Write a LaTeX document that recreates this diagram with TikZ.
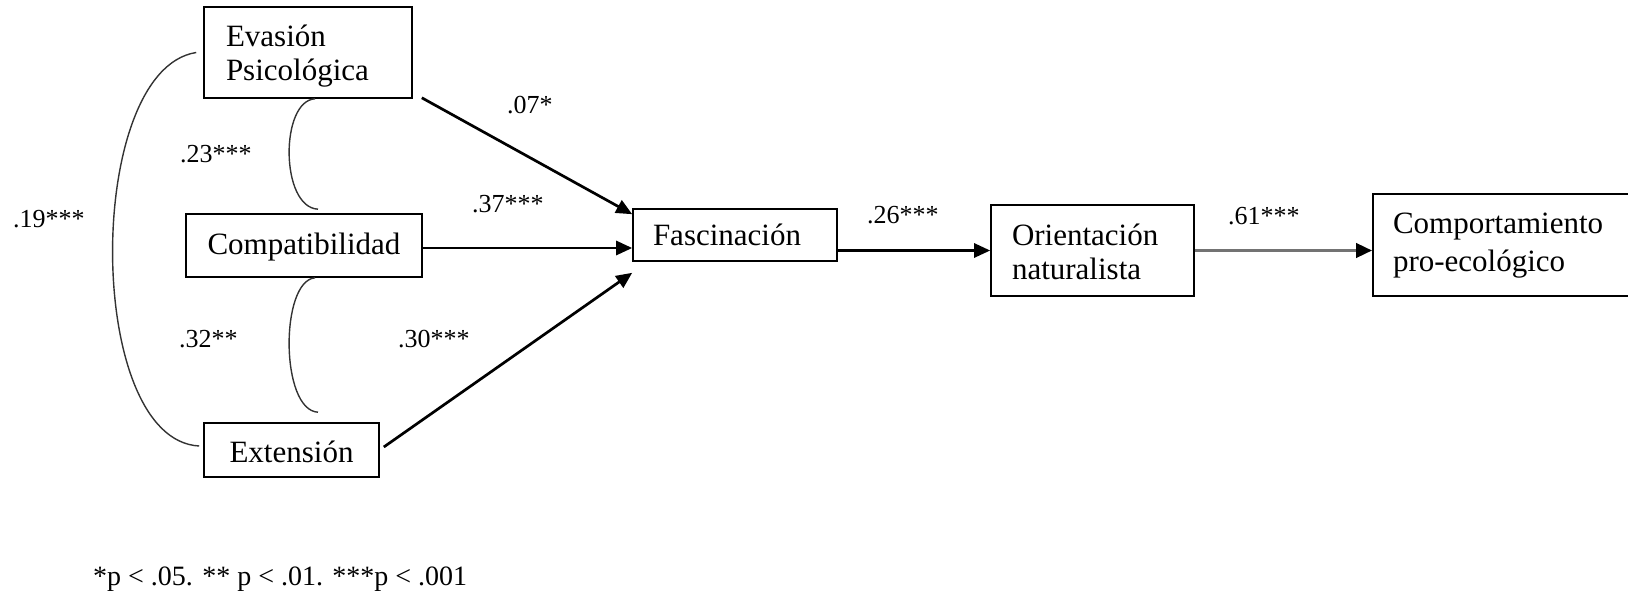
\documentclass[tikz,border=0pt]{standalone}
\usepackage{fontspec}
\setmainfont{Liberation Serif}
\usetikzlibrary{arrows.meta,calc}
\begin{document}
\begin{tikzpicture}[x=1pt,y=-1pt,
  box/.style={draw,line width=1.6pt,inner ysep=0pt,font=\fontsize{31}{34}\selectfont},
  lbl/.style={anchor=base west,inner sep=0pt,font=\fontsize{26}{30}\selectfont},
  pathto/.style={line width=2.7pt,-{Triangle[length=16pt,width=14pt]}},
  corr/.style={line width=1.4pt,black!80},
]
\clip (0,0) rectangle (1628,594);
\useasboundingbox (0,0) rectangle (1628,594);

% boxes
\node[box,align=left,inner xsep=22pt,text width=164pt,text height=40pt,text depth=51pt] (evasion) at (308,52.5) {Evasión\\Psicológica};
\node[box,align=center,inner xsep=20pt,text width=196pt,text height=40pt,text depth=23pt] (compat) at (304,245.5) {Compatibilidad};
\node[box,align=center,inner xsep=20pt,text width=135pt,text height=39pt,text depth=15pt] (extension) at (291.5,450) {Extensión};
\node[box,align=left,inner xsep=20pt,text width=164pt,text height=36pt,text depth=16pt] (fasc) at (735,235) {Fascinación};
\node[box,align=left,inner xsep=21pt,text width=161pt,text height=40pt,text depth=51pt] (orient) at (1092.5,250.5) {Orientación\\naturalista};
\node[box,align=left,inner xsep=20pt,text width=227pt,text height=39pt,text depth=63pt,font=\fontsize{31}{38}\selectfont] (comport) at (1506.5,245) {Comportamiento\\pro-ecológico};

% paths
\draw[pathto] ([xshift=9pt,yshift=1pt]evasion.south east) -- ([yshift=-6pt]fasc.north west);
\draw[pathto] ([yshift=-2.5pt]compat.east) -- ([yshift=-13pt]fasc.west);
\draw[pathto] ([xshift=4pt,yshift=3pt]extension.east) -- ([yshift=-11pt]fasc.south west);
\draw[pathto] (fasc.east |- orient.west) -- (orient.west);
\draw[line width=3.6pt,black!55,-{Triangle[length=16pt,width=14pt,color=black]}] (orient.east) -- (orient.east -| comport.west);

% correlations
\draw[corr] ([xshift=-7pt]evasion.west) .. controls +(-112,17.5) and +(-115,-6) .. ([xshift=-4pt,yshift=4pt]extension.west);
\draw[corr] ([xshift=7pt]evasion.south) .. controls +(-35,2) and +(-38,-2) .. ([xshift=14pt,yshift=4pt]compat.north);
\draw[corr] ([xshift=11pt]compat.south) .. controls +(-35,3) and +(-38,-2) .. ([xshift=26.5pt,yshift=10pt]extension.north);

% labels
\node[lbl] (l07) at (507,113) {.07*};
\node[lbl] (l37) at (472,212) {.37***};
\node[lbl] (l30) at (398,347) {.30***};
\node[lbl] (l23) at (180,162) {.23***};
\node[lbl] (l19) at (13,227) {.19***};
\node[lbl] (l32) at (179,347) {.32**};
\node[lbl] (l26) at (867,223) {.26***};
\node[lbl] (l61) at (1228,224) {.61***};
\node[lbl,font=\fontsize{28}{30}\selectfont] (note) at (93,585) {*p < .05. ** p < .01. ***p < .001};
\end{tikzpicture}
\end{document}
